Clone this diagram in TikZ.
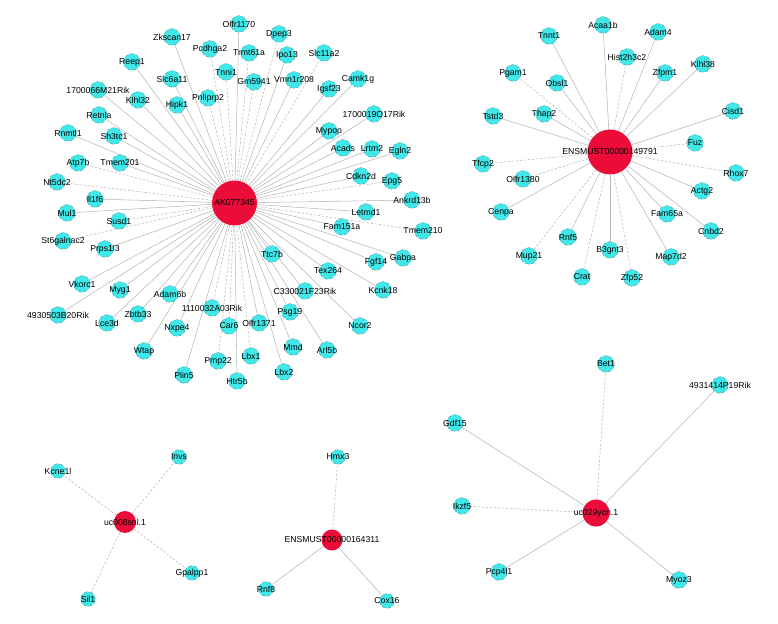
\documentclass[tikz,border=0pt]{standalone}
\usepackage{fontspec}
\setmainfont{Liberation Sans}
\usetikzlibrary{backgrounds}
\definecolor{genecyan}{RGB}{64,232,234}
\definecolor{hubred}{RGB}{236,12,58}
\definecolor{edgegray}{RGB}{180,180,180}

\begin{document}
\begin{tikzpicture}[
    x=0.03cm, y=-0.03cm,
    lbl/.style={
        font=\fontsize{7.4}{8}\selectfont,
        text=black,
        inner sep=0pt,
        solid
    },
    gene/.style={
        circle,
        draw=black!60,
        densely dashed,
        very thin,
        fill=genecyan,
        minimum size=0.5cm,
        inner sep=0pt,
        label={[lbl]center:#1}
    },
    smallgene/.style={
        gene=#1,
        minimum size=0.44cm
    },
    hub/.style={
        circle,
        fill=hubred,
        inner sep=0pt,
        minimum size=#1
    },
    edge/.style={draw=edgegray, line width=0.45pt},
    dedge/.style={edge, dash pattern=on 2pt off 1.5pt}
]
\useasboundingbox (0,0) rectangle (778,624);

% big cluster
\node[hub=1.35cm, label={[lbl]center:AK077345}] (ak) at (234.5,203) {};

\node[gene=Zkscan17] (zkscan17) at (172,37) {};
\node[gene=Reep1] (reep1) at (132,62) {};
\node[gene=Slc6a11] (slc6a11) at (172,79) {};
\node[gene=1700066M21Rik] (m21rik) at (98,90) {};
\node[gene=Klhl32] (klhl32) at (138,100) {};
\node[gene=Hipk1] (hipk1) at (177,105) {};
\node[gene=Retnla] (retnla) at (99,115) {};
\node[gene=Rnmtl1] (rnmtl1) at (68,133) {};
\node[gene=Sh3tc1] (sh3tc1) at (114,136) {};
\node[gene=Olfr1170] (olfr1170) at (239,24) {};
\node[gene=Dpep3] (dpep3) at (279,34) {};
\node[gene=Pcdhga2] (pcdhga2) at (210,49) {};
\node[gene=Trmt61a] (trmt61a) at (249,53) {};
\node[gene=Ipo13] (ipo13) at (287,55) {};
\node[gene=Slc11a2] (slc11a2) at (324,53) {};
\node[gene=Tnni1] (tnni1) at (226,72) {};
\node[gene=Gm5941] (gm5941) at (254,82) {};
\node[gene=Vmn1r208] (vmn1r208) at (294,80) {};
\node[gene=Camk1g] (camk1g) at (358,79) {};
\node[gene=Igsf23] (igsf23) at (329,89) {};
\node[gene=Pnliprp2] (pnliprp2) at (208,98) {};
\node[gene=1700019O17Rik] (o17rik) at (374,114) {};
\node[gene=Mypop] (mypop) at (329,131) {};
\node[gene=Atp7b] (atp7b) at (78,163) {};
\node[gene=Tmem201] (tmem201) at (120,163) {};
\node[gene=Nt5dc2] (nt5dc2) at (57,182) {};
\node[gene=Il1f6] (il1f6) at (95,199) {};
\node[gene=Mul1] (mul1) at (67,213) {};
\node[gene=Susd1] (susd1) at (119,221) {};
\node[gene=St6galnac2] (st6galnac2) at (63,241) {};
\node[gene=Prps1l3] (prps1l3) at (105,249) {};
\node[gene=Acads] (acads) at (343,148) {};
\node[gene=Lrtm2] (lrtm2) at (372,149) {};
\node[gene=Egln2] (egln2) at (400,151) {};
\node[gene=Cdkn2d] (cdkn2d) at (361,176) {};
\node[gene=Epg5] (epg5) at (392,181) {};
\node[gene=Ankrd13b] (ankrd13b) at (412,200) {};
\node[gene=Letmd1] (letmd1) at (366,212) {};
\node[gene=Tmem210] (tmem210) at (423,231) {};
\node[gene=Fam151a] (fam151a) at (342,227) {};
\node[gene=Ttc7b] (ttc7b) at (272,254) {};
\node[gene=Fgf14] (fgf14) at (376,262) {};
\node[gene=Gabpa] (gabpa) at (403,258) {};
\node[gene=Tex264] (tex264) at (328,271) {};
\node[gene=Vkorc1] (vkorc1) at (82,284) {};
\node[gene=Myg1] (myg1) at (120,290) {};
\node[gene=Adam6b] (adam6b) at (170,294) {};
\node[gene=4930503B20Rik] (b20rik) at (58,315) {};
\node[gene=Zbtb33] (zbtb33) at (138,314) {};
\node[gene=Lce3d] (lce3d) at (107,323) {};
\node[gene=Nxpe4] (nxpe4) at (177,328) {};
\node[gene=Wtap] (wtap) at (144,351) {};
\node[gene=Plin5] (plin5) at (184,375) {};
\node[gene=C330021F23Rik] (f23rik) at (305,291) {};
\node[gene=Kcnk18] (kcnk18) at (383,290) {};
\node[gene=1110032A03Rik] (a03rik) at (212,308) {};
\node[gene=Psg19] (psg19) at (290,312) {};
\node[gene=Car6] (car6) at (229,326) {};
\node[gene=Olfr1371] (olfr1371) at (259,323) {};
\node[gene=Ncor2] (ncor2) at (360,326) {};
\node[gene=Mmd] (mmd) at (293,347) {};
\node[gene=Arl5b] (arl5b) at (327,350) {};
\node[gene=Pmp22] (pmp22) at (218,361) {};
\node[gene=Lbx1] (lbx1) at (251,356) {};
\node[gene=Lbx2] (lbx2) at (284,372) {};
\node[gene=Htr5b] (htr5b) at (237,381) {};

% right cluster
\node[hub=1.35cm, label={[lbl]center:ENSMUST00000149791}] (ens149791) at (610,152) {};

\node[gene=Acaa1b] (acaa1b) at (603,25) {};
\node[gene=Tnnt1] (tnnt1) at (549,36) {};
\node[gene=Pgam1] (pgam1) at (513,73) {};
\node[gene=Obsl1] (obsl1) at (557,83) {};
\node[gene=Tstd3] (tstd3) at (493,116) {};
\node[gene=Thap2] (thap2) at (544,114) {};
\node[gene=Adam4] (adam4) at (658,32) {};
\node[gene=Hist2h3c2] (hist2h3c2) at (627,57) {};
\node[gene=Zfpm1] (zfpm1) at (665,73) {};
\node[gene=Klhl38] (klhl38) at (703,64) {};
\node[gene=Cisd1] (cisd1) at (733,111) {};
\node[gene=Fuz] (fuz) at (695,143) {};
\node[gene=Tfcp2] (tfcp2) at (483,164) {};
\node[gene=Olfr1380] (olfr1380) at (523,179) {};
\node[gene=Cenpa] (cenpa) at (501,212) {};
\node[gene=Rnf5] (rnf5) at (568,237) {};
\node[gene=Mup21] (mup21) at (529,256) {};
\node[gene=Crat] (crat) at (582,277) {};
\node[gene=Rhox7] (rhox7) at (736,173) {};
\node[gene=Actg2] (actg2) at (702,191) {};
\node[gene=Fam65a] (fam65a) at (667,214) {};
\node[gene=Cnbd2] (cnbd2) at (711,231) {};
\node[gene=B3gnt3] (b3gnt3) at (610,250) {};
\node[gene=Map7d2] (map7d2) at (671,257) {};
\node[gene=Zfp52] (zfp52) at (632,278) {};

% small clusters
\node[hub=0.66cm, label={[lbl]center:uc008snl.1}] (uc008) at (125,522) {};
\node[smallgene=Kcne1l] (kcne1l) at (58,471) {};
\node[smallgene=Invs] (invs) at (179,457) {};
\node[smallgene=Gpalpp1] (gpalpp1) at (192,573) {};
\node[smallgene=Sil1] (sil1) at (88,599) {};

\node[hub=0.63cm, label={[lbl]center:ENSMUST00000164311}] (ens164311) at (332,540) {};
\node[smallgene=Hmx3] (hmx3) at (338,457) {};
\node[smallgene=Rnf8] (rnf8) at (266,589) {};
\node[smallgene=Cox16] (cox16) at (387,601) {};

\node[hub=0.81cm, label={[lbl]center:uc029ycn.1}] (uc029) at (596,513) {};
\node[gene=Bet1] (bet1) at (606,364) {};
\node[gene=4931414P19Rik] (p19rik) at (720,385) {};
\node[gene=Gdf15] (gdf15) at (455,423) {};
\node[gene=Ikzf5] (ikzf5) at (462,506) {};
\node[gene=Pcp4l1] (pcp4l1) at (499,572) {};
\node[gene=Myoz3] (myoz3) at (679,580) {};

% connectors
\begin{scope}[on background layer]
\foreach \g in {zkscan17, reep1, slc6a11, m21rik, klhl32, hipk1, retnla, rnmtl1,
    sh3tc1, olfr1170, ipo13, vmn1r208, camk1g, igsf23, o17rik, mypop, tmem201,
    il1f6, mul1, prps1l3, acads, lrtm2, egln2, cdkn2d, ankrd13b, letmd1, fam151a,
    ttc7b, fgf14, gabpa, tex264, vkorc1, myg1, adam6b, b20rik, zbtb33, lce3d,
    nxpe4, wtap, plin5, f23rik, kcnk18, psg19, olfr1371, ncor2, mmd, arl5b,
    lbx2, htr5b}
    \draw[edge] (ak) -- (\g);
\foreach \g in {dpep3, pcdhga2, trmt61a, slc11a2, tnni1, gm5941, pnliprp2, atp7b,
    nt5dc2, susd1, st6galnac2, epg5, tmem210, a03rik, car6, pmp22, lbx1}
    \draw[dedge] (ak) -- (\g);

\foreach \g in {acaa1b, tnnt1, obsl1, tstd3, thap2, adam4, zfpm1, klhl38, cisd1,
    cenpa, rnf5, actg2, fam65a, cnbd2, b3gnt3, map7d2}
    \draw[edge] (ens149791) -- (\g);
\foreach \g in {pgam1, hist2h3c2, fuz, tfcp2, olfr1380, mup21, crat, rhox7, zfp52}
    \draw[dedge] (ens149791) -- (\g);

\foreach \g in {kcne1l, invs, gpalpp1, sil1}
    \draw[dedge] (uc008) -- (\g);

\draw[dedge] (ens164311) -- (hmx3);
\draw[edge] (ens164311) -- (rnf8);
\draw[edge] (ens164311) -- (cox16);

\foreach \g in {p19rik, gdf15, pcp4l1, myoz3}
    \draw[edge] (uc029) -- (\g);
\draw[dedge] (uc029) -- (bet1);
\draw[dedge] (uc029) -- (ikzf5);
\end{scope}

\end{tikzpicture}
\end{document}
